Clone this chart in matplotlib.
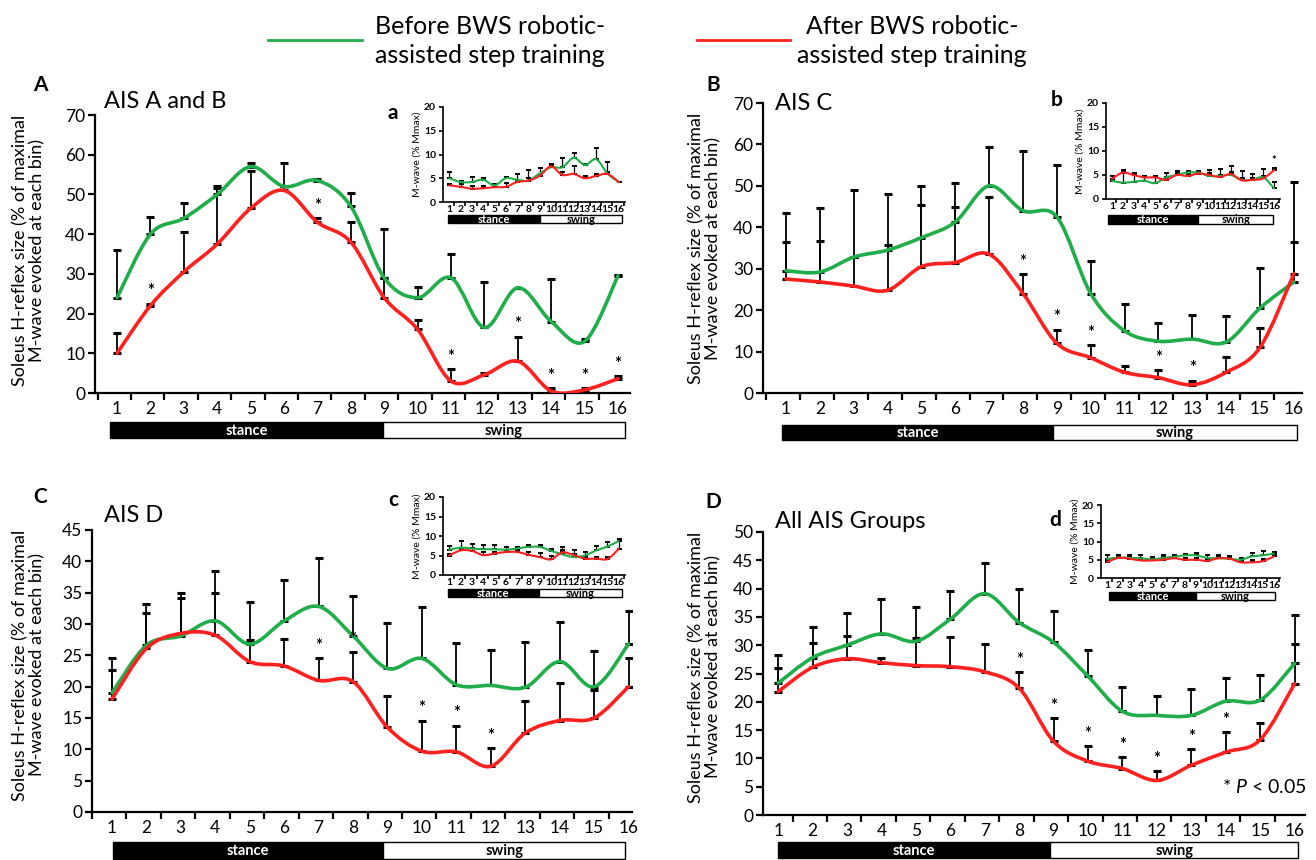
import numpy as np
import matplotlib
matplotlib.use('Agg')
import matplotlib.pyplot as plt
from matplotlib.path import Path
from matplotlib.patches import PathPatch, Rectangle
from matplotlib.lines import Line2D

plt.rcParams['font.family'] = ['Lato', 'DejaVu Sans']
plt.rcParams['mathtext.fontset'] = 'custom'
plt.rcParams['mathtext.it'] = 'Lato:italic'
plt.rcParams['mathtext.rm'] = 'Lato'

W, H = 1316, 860
GREEN = '#20ad4a'
RED = '#ff2020'

bins = np.arange(1, 17)
bin_labels = [str(b) for b in bins]

# H-reflex, AIS A and B
a_pre = [24, 40, 44, 50, 57, 52, 53.5, 47, 29, 24, 29, 16.5, 26.5, 18, 13, 29.5]
a_pre_err = [12, 4.2, 3.8, 2.2, 0.9, 5.8, 0.5, 3.4, 12.4, 2.8, 6, 11.5, 0, 10.7, 0.5, 0.3]
a_post = [10, 22, 30.5, 37.5, 46.5, 51, 43, 38, 24, 16, 3, 4.6, 8, 0.5, 0.8, 3.6]
a_post_err = [5, 0.5, 10, 14, 9.5, 1, 1, 5, 5, 2.5, 3, 0.4, 6.2, 0.7, 0.4, 0.6]
a_sig = [2, 7, 11, 13, 14, 15, 16]

# H-reflex, AIS C
b_pre = [29.5, 29.2, 32.8, 34.5, 37.5, 41.3, 50, 44, 42.5, 24, 15, 12.5, 13, 12.3, 20.5, 26.8]
b_pre_err = [13.9, 15.4, 16.1, 13.5, 12.5, 9.5, 9.5, 14.5, 12.5, 7.8, 6.5, 4.5, 5.8, 6.2, 9.7, 24.2]
b_post = [27.5, 26.8, 25.8, 24.8, 30.5, 31.5, 33.5, 24, 12, 8.5, 5, 3.7, 2, 5, 11, 28.8]
b_post_err = [9, 9.9, 7, 11, 14.8, 13.5, 13.7, 4.8, 3.3, 3, 1.5, 1.8, 1, 3.7, 4.8, 7.7]
b_sig = [8, 9, 10, 12, 13]

# H-reflex, AIS D
c_pre = [19, 26.6, 28.1, 30.5, 26.8, 30.5, 32.8, 28.1, 22.9, 24.5, 20.3, 20.2, 19.9, 24, 20, 26.8]
c_pre_err = [5.5, 6.6, 6.9, 7.9, 6.7, 6.6, 7.7, 6.4, 7.2, 8.2, 6.6, 5.6, 7.3, 6.3, 5.7, 5.2]
c_post = [18, 26.1, 28.5, 28.2, 24, 23.3, 21, 20.8, 13.5, 9.7, 9.6, 7.3, 12.6, 14.6, 15, 20]
c_post_err = [4.6, 5.7, 5.7, 6.8, 3.5, 4.3, 3.5, 4.8, 5, 4.9, 4.2, 2.9, 5.1, 6, 4.5, 4.5]
c_sig = [7, 8, 10, 11, 12]

# H-reflex, all AIS groups
d_pre = [23.3, 27.8, 30, 32, 30.7, 34.6, 39.1, 34, 30.5, 24.5, 18.3, 17.6, 17.6, 20.1, 20.3, 26.8]
d_pre_err = [4.9, 5.5, 5.7, 6.1, 6, 5, 5.5, 5.9, 5.5, 4.6, 4.3, 3.5, 4.6, 4.1, 4.5, 8.6]
d_post = [21.8, 26.1, 27.6, 26.9, 26.4, 26.2, 25.3, 22.4, 13, 9.5, 8.2, 6.1, 8.8, 11.1, 13.3, 23.2]
d_post_err = [4.2, 4.3, 4, 0.8, 4.9, 5.3, 5, 2.8, 4.1, 2.7, 2.1, 1.7, 2.9, 3.5, 3, 7]
d_sig = [8, 9, 10, 11, 12, 13, 14]

# M-wave insets
ia_pre = [5, 4.2, 4.2, 4.7, 3.5, 5, 4.7, 4.5, 6, 7.3, 7.3, 9.3, 7.8, 9, 6, 4.2]
ia_pre_err = [1.3, 0.3, 1, 0.3, 0.3, 0.3, 1.1, 2.3, 1.1, 0.7, 2, 1, 0.2, 2.3, 2.5, 0.1]
ia_post = [3.5, 3.2, 2.8, 2.9, 3.1, 3.2, 4.2, 4.5, 5.5, 7.5, 5.7, 5.9, 5, 5.5, 5.9, 4.2]
ia_post_err = [0.3, 0.5, 0.6, 0.5, 0.4, 0.9, 0.5, 0.5, 0.5, 0.3, 0.6, 1.7, 0.5, 0.5, 0.4, 0.1]

ib_pre = [3.8, 3.4, 3.6, 3.8, 3.3, 4.5, 5, 5.5, 5.5, 4.8, 4.8, 5, 4, 4, 4.5, 2.2]
ib_pre_err = [1, 2.6, 1.8, 1, 1.3, 1, 0.8, 0.3, 0.3, 1.2, 1.5, 1.8, 1.8, 1.2, 1.8, 1.3]
ib_post = [4.2, 5.5, 5, 4.5, 4.5, 4, 5, 4.8, 5.3, 5, 4.6, 5.2, 3.9, 4, 4.3, 6]
ib_post_err = [0.5, 0.4, 0.4, 0.3, 0.3, 0.4, 0.4, 0.4, 0.3, 0.4, 0.5, 0.5, 0.4, 0.4, 0.4, 0.5]
ib_sig = [16]

ic_pre = [6.5, 7, 6.8, 6.6, 6.6, 6.5, 6.8, 7.2, 7.2, 6.2, 5.3, 4.6, 5, 6.3, 7.3, 8.7]
ic_pre_err = [1, 1.8, 1.2, 1.1, 1.1, 0.6, 0.5, 0.6, 0.6, 0.4, 2, 1.8, 0.8, 1.1, 1.2, 0.6]
ic_post = [5, 6.3, 6.2, 5.1, 5.5, 5.9, 5.9, 5.2, 4.6, 4, 5.8, 5.1, 4.2, 4.2, 4.1, 6.7]
ic_post_err = [0.5, 0.7, 0.8, 0.9, 0.5, 0.3, 0.4, 0.7, 1, 0.9, 0.7, 0.3, 0.4, 0.5, 0.5, 2.3]

id_pre = [5.2, 5.6, 5.5, 5.4, 5.1, 5.5, 5.8, 6.2, 6.2, 5.5, 5.4, 5.3, 5, 5.9, 6.2, 6.7]
id_pre_err = [1, 0.7, 0.7, 0.8, 0.7, 0.7, 0.6, 0.4, 0.7, 0.7, 0.9, 0.8, 0.6, 1, 1.1, 0.3]
id_post = [4.4, 5.5, 5.3, 4.8, 4.8, 5, 5.4, 5, 5, 4.7, 5.4, 5.3, 4.3, 4.3, 4.6, 5.9]
id_post_err = [0.6, 0.3, 0.5, 0.6, 0.6, 0.7, 0.6, 0.5, 0.5, 0.5, 0.5, 0.5, 0.5, 0.7, 0.6, 0.4]

YLABEL = 'Soleus H-reflex size (% of maximal\nM-wave evoked at each bin)'

fig = plt.figure(figsize=(W / 100, H / 100), dpi=100)


def px_axes(l, t, r, b):
    # axes placed by pixel box (left, top, right, bottom)
    return fig.add_axes([l / W, 1 - b / H, (r - l) / W, (b - t) / H])


def smooth_line(ax, x, y, color, lw):
    # smoothed line through the points (cubic bezier, catmull-rom style)
    x = np.asarray(x, float)
    y = np.asarray(y, float)
    px = np.r_[x[0], x, x[-1]]
    py = np.r_[y[0], y, y[-1]]
    verts = [(x[0], y[0])]
    codes = [Path.MOVETO]
    for i in range(1, len(px) - 2):
        c1 = (px[i] + (px[i + 1] - px[i - 1]) / 6, py[i] + (py[i + 1] - py[i - 1]) / 6)
        c2 = (px[i + 1] - (px[i + 2] - px[i]) / 6, py[i + 1] - (py[i + 2] - py[i]) / 6)
        verts += [c1, c2, (px[i + 1], py[i + 1])]
        codes += [Path.CURVE4] * 3
    ax.add_patch(PathPatch(Path(verts, codes), fill=False, edgecolor=color, lw=lw,
                           capstyle='round', joinstyle='round', zorder=3))


def phase_bar(box, xlim, start, split, end, fs):
    bx = px_axes(*box)
    bx.set_xlim(xlim)
    bx.set_ylim(0, 1)
    bx.axis('off')
    bx.add_patch(Rectangle((start, 0), split - start, 1, facecolor='black',
                           edgecolor='black', lw=1, clip_on=False))
    bx.add_patch(Rectangle((split, 0), end - split, 1, facecolor='white',
                           edgecolor='black', lw=1, clip_on=False))
    bx.text((start + split) / 2, 0.45, 'stance', color='white', fontsize=fs,
            ha='center', va='center', fontweight='bold')
    bx.text((split + end) / 2, 0.45, 'swing', color='black', fontsize=fs,
            ha='center', va='center', fontweight='bold')


def style_axes(ax, xlim, ylim, ystep, fs, tick_len, lw, pad):
    ax.set_xlim(xlim)
    ax.set_ylim(0, ylim)
    for s in ['top', 'right']:
        ax.spines[s].set_visible(False)
    for s in ['left', 'bottom']:
        ax.spines[s].set_linewidth(lw)
    ax.set_yticks(np.arange(0, ylim + 0.1, ystep))
    ax.set_xticks(bins)
    ax.set_xticklabels(bin_labels)
    ax.set_xticks([k + 0.42 for k in range(0, 17) if xlim[0] <= k + 0.42 <= xlim[1]], minor=True)
    ax.tick_params(axis='x', which='major', length=0, pad=pad, labelsize=fs)
    ax.tick_params(axis='x', which='minor', length=tick_len, width=lw, direction='out')
    ax.tick_params(axis='y', length=tick_len, width=lw, labelsize=fs, pad=2)


def draw_panel(box, xlim, ylim, ystep, pre, pre_err, post, post_err, sig,
               bar_box, phases):
    ax = px_axes(*box)
    style_axes(ax, xlim, ylim, ystep, 12.5, 5, 1.6, 6)
    ax.errorbar(bins, pre, yerr=[np.zeros(16), pre_err], fmt='none', ecolor='black',
                elinewidth=1.3, capsize=3.2, capthick=2.2, zorder=2)
    ax.errorbar(bins, post, yerr=[np.zeros(16), post_err], fmt='none', ecolor='black',
                elinewidth=1.3, capsize=3.2, capthick=2.2, zorder=2)
    smooth_line(ax, bins, pre, GREEN, 2.6)
    smooth_line(ax, bins, post, RED, 2.6)
    for b in sig:
        top = post[b - 1] + post_err[b - 1]
        ax.annotate('*', (b, top), xytext=(0, 3), textcoords='offset points',
                    ha='center', va='bottom', fontsize=12, fontweight='bold')
    phase_bar(bar_box, xlim, *phases, 10.5)
    return ax


def draw_inset(box, pre, pre_err, post, post_err, sig, bar_box, phases):
    ax = px_axes(*box)
    xlim = (0.45, 16.55)
    style_axes(ax, xlim, 20, 5, 7.5, 3, 1.2, 2)
    for t in ax.get_xticklabels() + ax.get_yticklabels():
        t.set_fontweight('bold')
    ax.errorbar(bins, pre, yerr=[np.zeros(16), pre_err], fmt='none', ecolor='black',
                elinewidth=0.9, capsize=1.8, capthick=1.4, zorder=2)
    ax.errorbar(bins, post, yerr=[np.zeros(16), post_err], fmt='none', ecolor='black',
                elinewidth=0.9, capsize=1.8, capthick=1.4, zorder=2)
    smooth_line(ax, bins, pre, GREEN, 1.5)
    smooth_line(ax, bins, post, RED, 1.5)
    for b in sig:
        top = max(pre[b - 1] + pre_err[b - 1], post[b - 1] + post_err[b - 1])
        ax.annotate('*', (b, top), xytext=(0, 1), textcoords='offset points',
                    ha='center', va='bottom', fontsize=8, fontweight='bold')
    ax.set_ylabel('M-wave (% Mmax)', fontsize=7.5, labelpad=2)
    phase_bar(bar_box, xlim, *phases, 8)
    return ax


# main panels
draw_panel((95, 115, 630, 393), (0.34, 16.36), 70, 10, a_pre, a_pre_err, a_post, a_post_err,
           a_sig, (95, 422, 630, 438), (0.79, 8.96, 16.21))
draw_panel((763, 103, 1302, 393), (0.32, 16.24), 70, 10, b_pre, b_pre_err, b_post, b_post_err,
           b_sig, (763, 425, 1302, 440), (0.88, 8.88, 16.09))
draw_panel((92, 530, 632, 812), (0.42, 16.1), 45, 5, c_pre, c_pre_err, c_post, c_post_err,
           c_sig, (92, 842, 632, 859), (1.03, 8.88, 15.91))
draw_panel((763, 532, 1305, 815), (0.56, 16.3), 50, 5, d_pre, d_pre_err, d_post, d_post_err,
           d_sig, (763, 842, 1305, 858), (1.0, 8.9, 16.11))

# M-wave insets
draw_inset((443, 107, 625, 202), ia_pre, ia_pre_err, ia_post, ia_post_err, [],
           (443, 215, 625, 223), (0.9, 9.05, 16.3))
draw_inset((1106, 103, 1280, 199), ib_pre, ib_pre_err, ib_post, ib_post_err, ib_sig,
           (1106, 215, 1280, 224), (0.6, 9.0, 15.9))
draw_inset((443, 497, 625, 575), ic_pre, ic_pre_err, ic_post, ic_post_err, [],
           (443, 589, 625, 597), (0.9, 8.9, 16.3))
draw_inset((1101, 505, 1280, 578), id_pre, id_pre_err, id_post, id_post_err, [],
           (1101, 592, 1280, 600), (1.2, 9.0, 16.1))

# y labels
for x, y in [(29, 250), (705, 248), (29, 665), (705, 667)]:
    fig.text(x / W, 1 - y / H, YLABEL, rotation=90, ha='center', va='center',
             multialignment='center', fontsize=13, linespacing=1.1)

# panel letters and titles
for s, x, y in [('A', 40, 85), ('B', 713, 85), ('C', 40, 497), ('D', 713, 502)]:
    fig.text(x / W, 1 - y / H, s, fontsize=15, fontweight='bold', ha='center', va='center')
for s, x, y in [('a', 393, 113), ('b', 1057, 100), ('c', 393, 500), ('d', 1055, 520)]:
    fig.text(x / W, 1 - y / H, s, fontsize=15, fontweight='bold', ha='center', va='center')
for s, x, y in [('AIS A and B', 104, 102), ('AIS C', 775, 103),
                ('AIS D', 104, 516), ('All AIS Groups', 775, 522)]:
    fig.text(x / W, 1 - y / H, s, fontsize=17, ha='left', va='center')

fig.text(1222 / W, 1 - 787 / H, r'* $\mathit{P}$ < 0.05', fontsize=14, ha='left', va='center')

# legend at the top
fig.add_artist(Line2D([268 / W, 362 / W], [1 - 40 / H, 1 - 40 / H], color=GREEN, lw=2))
fig.add_artist(Line2D([697 / W, 790 / W], [1 - 40 / H, 1 - 40 / H], color=RED, lw=2))
fig.text(490 / W, 1 - 41 / H, 'Before BWS robotic-\nassisted step training', fontsize=18,
         ha='center', va='center', linespacing=1.3)
fig.text(912 / W, 1 - 41 / H, 'After BWS robotic-\nassisted step training', fontsize=18,
         ha='center', va='center', linespacing=1.3)

fig.savefig('out.png', dpi=100, facecolor='white')
